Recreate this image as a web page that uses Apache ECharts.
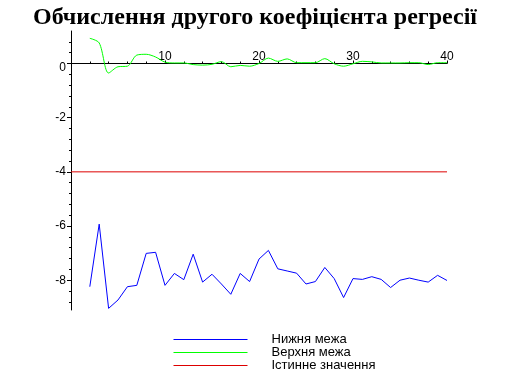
<!DOCTYPE html>
<html>
<head>
<meta charset="utf-8">
<script src="https://cdn.jsdelivr.net/npm/echarts@6/dist/echarts.min.js"></script>
<style>html,body{margin:0;padding:0;background:#fff}#c{width:510px;height:381px}</style>
</head>
<body>
<div id="c"></div>
<script>
const titleText = 'Обчислення другого коефіцієнта регресії';
const seriesNames = ['Нижня межа', 'Верхня межа', 'Істинне значення'];
const xStart = 2;
const lowerBound = [-8.24,-5.93,-9.04,-8.73,-8.24,-8.19,-7.01,-6.97,-8.19,-7.75,-7.98,-7.04,-8.07,-7.78,-8.14,-8.52,-7.75,-8.05,-7.22,-6.90,-7.58,-7.66,-7.74,-8.14,-8.05,-7.53,-7.94,-8.64,-7.94,-7.97,-7.87,-7.97,-8.27,-8.00,-7.92,-8.00,-8.07,-7.82,-8.01];
const upperBound = [0.93,0.76,-0.35,-0.12,-0.10,0.31,0.34,0.24,0.05,0.02,0.02,-0.04,-0.06,-0.03,0.07,-0.12,-0.07,-0.10,0.00,0.20,0.08,0.17,0.03,0.03,0.03,0.18,-0.01,-0.10,-0.01,0.08,0.06,0.02,0.02,0.02,0.03,0.03,-0.04,0.03,0.03];
const trueX = [0, 40];
const trueValue = [-4, -4];
const xTicks = [10, 20, 30, 40];
const yTicks = [-8, -6, -4, -2, 0];

const Y_MIN = -9.1, Y_MAX = 1.2;
const GRID_TOP = 31, GRID_H = 279;

const toPairs = (arr, x0) => arr.map((v, i) => [x0 + i, v]);
const minorY = [];
for (let k = -22; k <= 2; k++) {
  const v = Math.round(k * 0.4 * 10) / 10;
  if (!yTicks.includes(v)) minorY.push(v);
}
// place x axis on the zero line (distance from grid top)
const zeroOffset = -(Y_MAX / (Y_MAX - Y_MIN)) * GRID_H;

const chart = echarts.init(document.getElementById('c'), null, {renderer: 'canvas'});
chart.setOption({
  animation: false,
  backgroundColor: '#fff',
  title: {
    text: titleText, left: 'center', top: 1,
    textStyle: {fontFamily: 'Liberation Serif', fontWeight: 'bold', fontSize: 24, color: '#000'}
  },
  legend: {
    orient: 'vertical', left: 173, top: 333, padding: 0,
    itemWidth: 74, itemHeight: 13, itemGap: 0,
    data: seriesNames,
    itemStyle: {opacity: 0},
    lineStyle: {width: 1},
    textStyle: {fontFamily: 'Liberation Sans', fontSize: 13, lineHeight: 13, color: '#000', padding: [0, 0, 0, 19]}
  },
  grid: {left: 71, right: 63, top: GRID_TOP, height: GRID_H, containLabel: false},
  xAxis: {
    type: 'value', min: 0, max: 40, interval: 10, position: 'top', offset: zeroOffset,
    axisLine: {onZero: false, lineStyle: {color: '#000', width: 1}},
    axisTick: {show: true, length: 3, lineStyle: {color: '#000'}},
    minorTick: {show: true, splitNumber: 5, length: 2, lineStyle: {color: '#000'}},
    axisLabel: {margin: 1, customValues: xTicks, fontFamily: 'Liberation Sans', fontSize: 12, color: '#000'},
    splitLine: {show: false}
  },
  yAxis: [{
    type: 'value', min: Y_MIN, max: Y_MAX,
    axisLine: {show: true, onZero: false, lineStyle: {color: '#000'}},
    axisTick: {show: true, length: 4, customValues: yTicks, lineStyle: {color: '#000'}},
    axisLabel: {margin: 5, customValues: yTicks, fontFamily: 'Liberation Sans', fontSize: 12, color: '#000',
      formatter: v => v === 0 ? '{z|0}' : String(v),
      rich: {z: {padding: [9, 0, 0, 0], fontFamily: 'Liberation Sans', fontSize: 12, color: '#000'}}},
    splitLine: {show: false}
  }, {
    type: 'value', min: Y_MIN, max: Y_MAX, position: 'left',
    axisLine: {show: false},
    axisTick: {show: true, length: 2, customValues: minorY, lineStyle: {color: '#000'}},
    axisLabel: {show: false},
    splitLine: {show: false}
  }],
  series: [
    {name: seriesNames[0], type: 'line', symbol: 'none', data: toPairs(lowerBound, xStart),
     lineStyle: {color: '#0000ff', width: 1}, itemStyle: {color: '#0000ff'}},
    {name: seriesNames[1], type: 'line', symbol: 'none', smooth: 0.3, data: toPairs(upperBound, xStart),
     lineStyle: {color: '#00ff00', width: 1}, itemStyle: {color: '#00ff00'}},
    {name: seriesNames[2], type: 'line', symbol: 'none', data: trueX.map((x, i) => [x, trueValue[i]]),
     lineStyle: {color: '#dd0000', width: 1}, itemStyle: {color: '#dd0000'}}
  ]
});
</script>
</body>
</html>
